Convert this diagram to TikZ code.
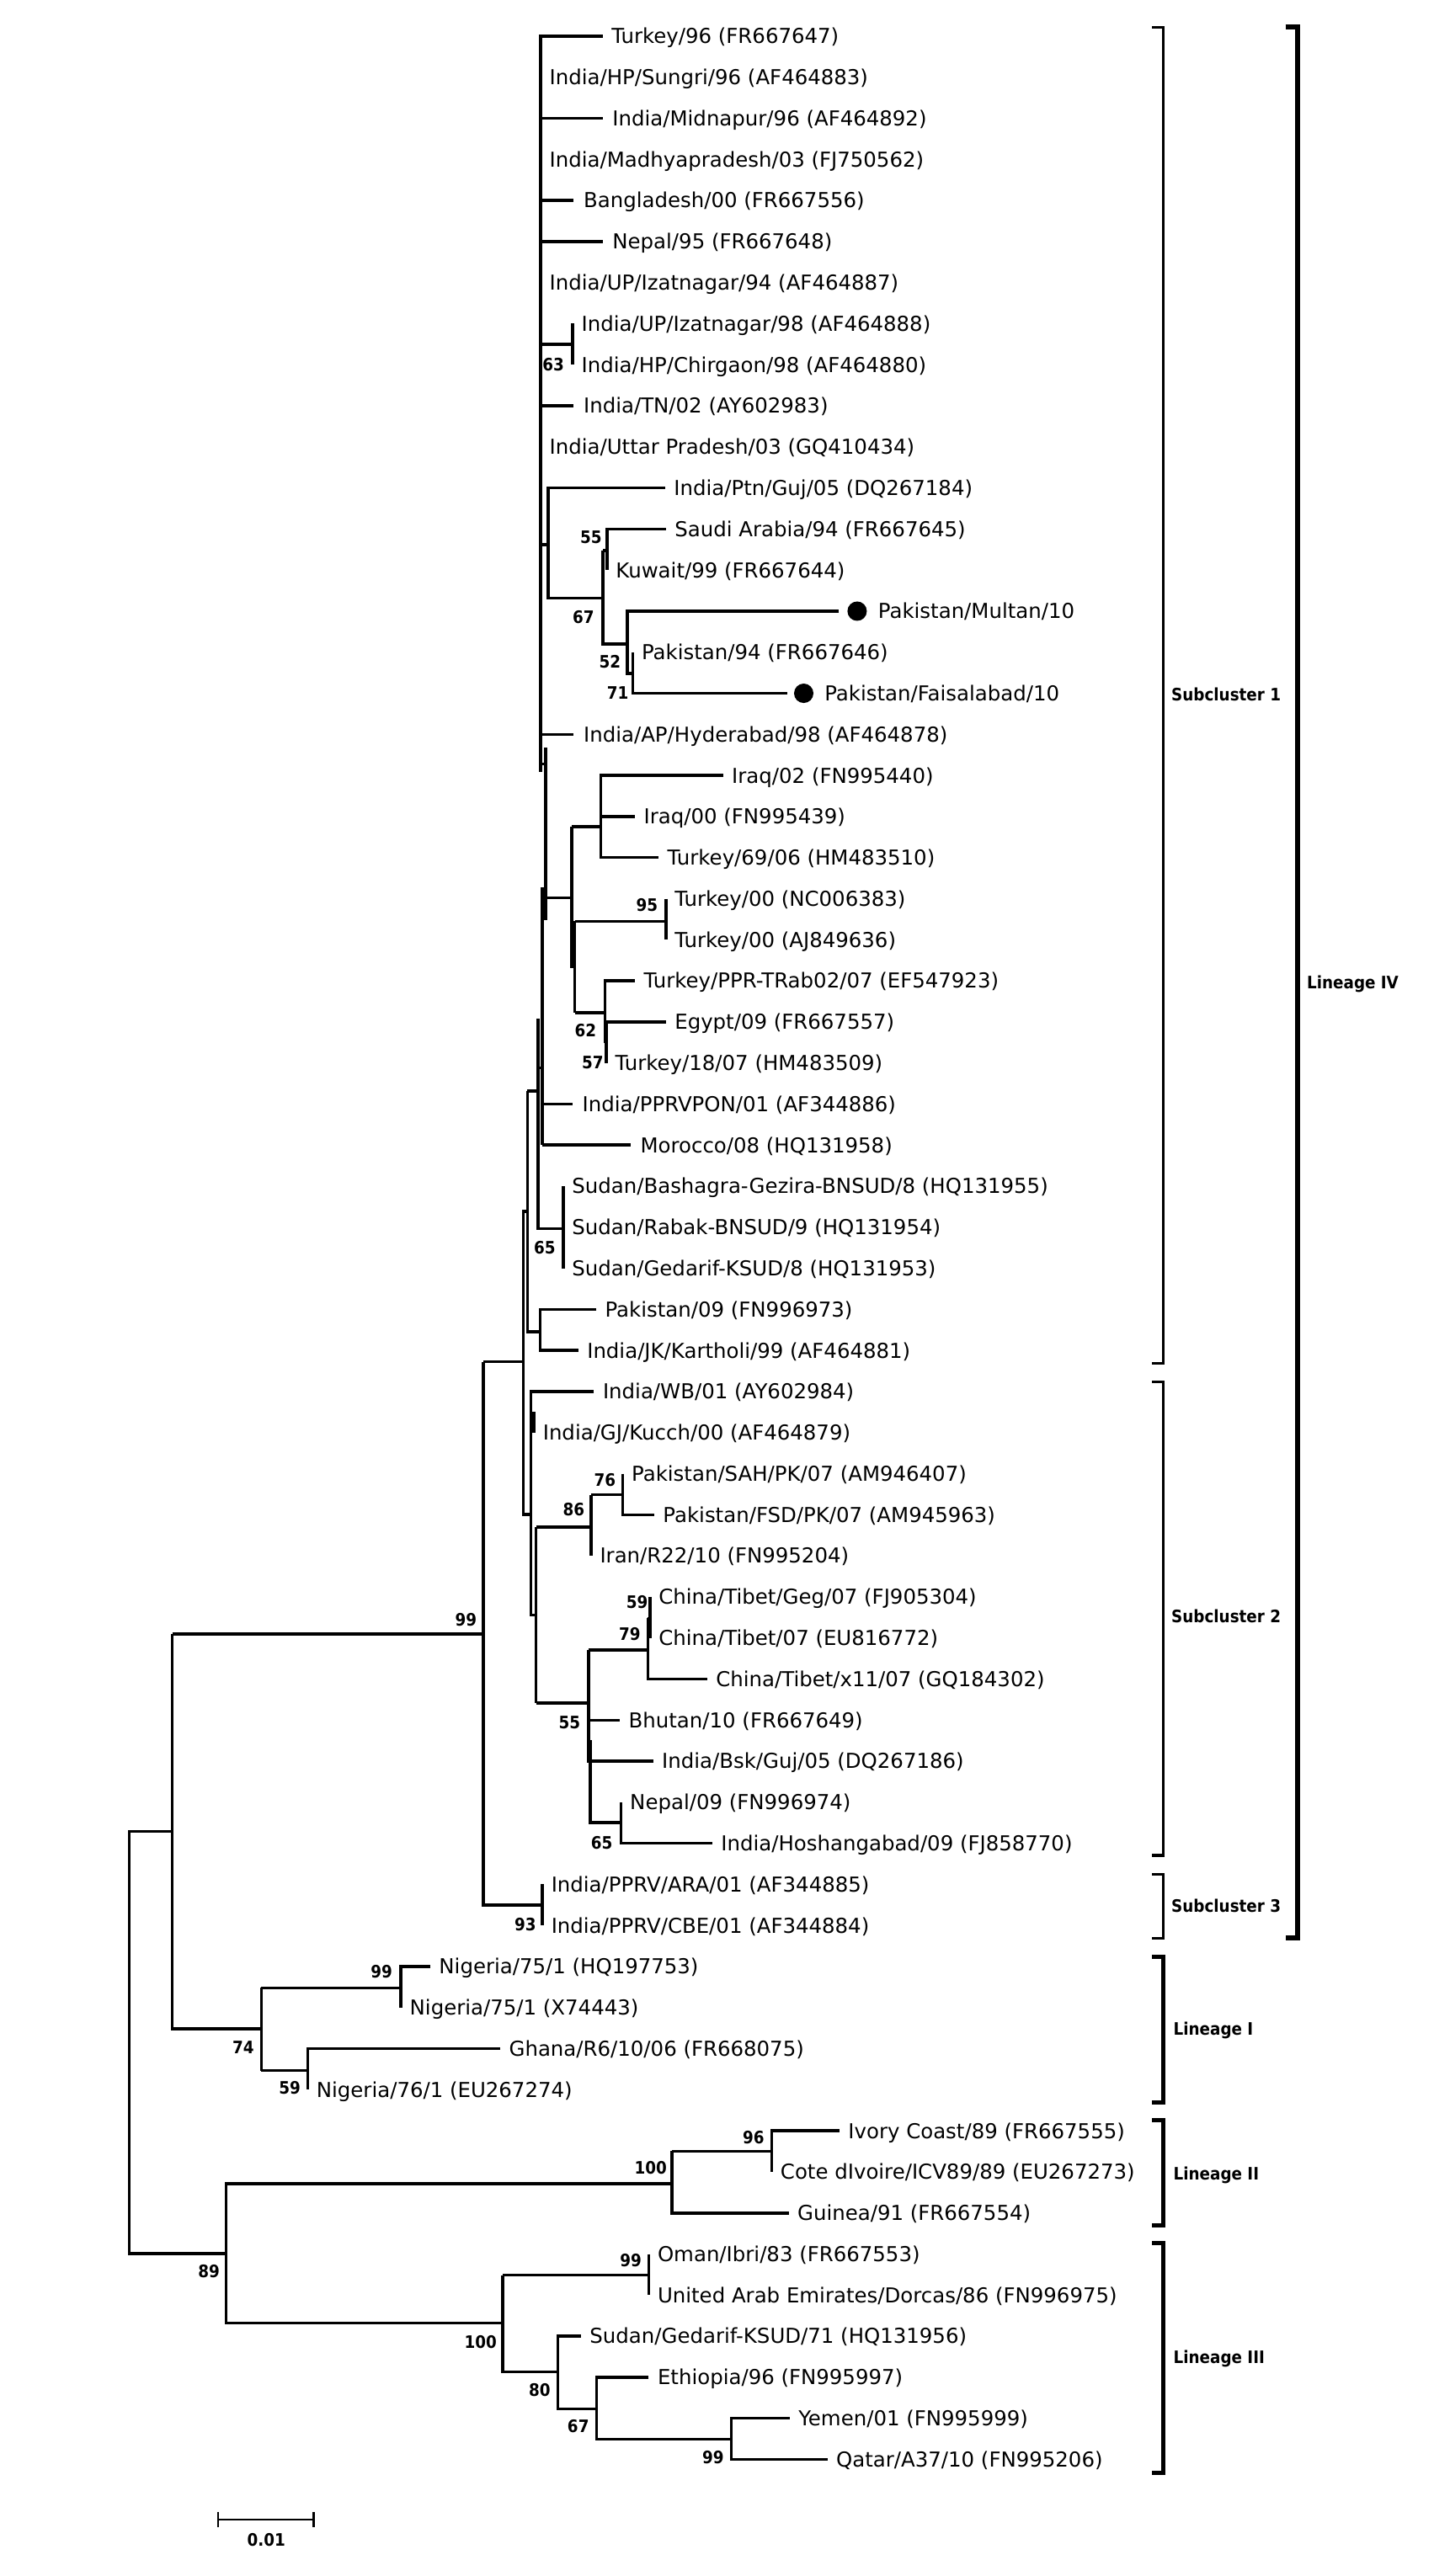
\documentclass[tikz,border=0pt]{standalone}
\usepackage{fontspec}
\setmainfont{DejaVu Sans}
\newfontfamily\bootfont{DejaVu Sans Condensed}
\tikzset{
	br/.style={line width=1pt},
	brk/.style={line width=1pt},
	lbrk/.style={line width=1.45pt},
	sbar/.style={line width=0.7pt},
	leaf/.style={anchor=west, inner xsep=2.8pt, inner ysep=0pt, text height=5.05pt, text depth=0pt, font=\fontsize{6.95}{8}\selectfont},
	boot/.style={inner sep=0pt, text height=4.2pt, text depth=0pt, font=\bootfont\bfseries\fontsize{5.8}{7}\selectfont},
	clade/.style={anchor=west, inner sep=0pt, text height=4.2pt, text depth=0pt, font=\bootfont\bfseries\fontsize{5.8}{7}\selectfont},
}

\begin{document}
\begin{tikzpicture}[x=0.019512cm, y=-0.019512cm]
			%%%%% START %%%%%
			\useasboundingbox (0,0) rectangle (882,1568);
			
			% lineage IV, subcluster 1
			\draw[br] (366.8,22) -- (329,22) -- (329,470);
			\node[leaf] (tur96) at (366.8,22) {Turkey/96 (FR667647)};
			\node[leaf] (sungri) at (329,47) {India/HP/Sungri/96 (AF464883)};
			\draw[br] (329,72) -- (366.8,72) node[leaf] (midnapur) {India/Midnapur/96 (AF464892)};
			\node[leaf] (madhya) at (329,97) {India/Madhyapradesh/03 (FJ750562)};
			\draw[br] (329,122) -- (349.2,122) node[leaf] (bangla) {Bangladesh/00 (FR667556)};
			\draw[br] (329,147) -- (366.8,147) node[leaf] (nepal95) {Nepal/95 (FR667648)};
			\node[leaf] (izat94) at (329,172) {India/UP/Izatnagar/94 (AF464887)};
			
			\draw[br] (329,209.5) -- (348.5,209.5);
			\draw[br] (348.5,197) -- (348.5,222);
			\node[leaf] (izat98) at (348.5,197) {India/UP/Izatnagar/98 (AF464888)};
			\node[leaf] (chirgaon) at (348.5,222) {India/HP/Chirgaon/98 (AF464880)};
			\node[boot] (b63) at (336.7,222) {63};
			
			\draw[br] (329,247) -- (349.2,247) node[leaf] (tn) {India/TN/02 (AY602983)};
			\node[leaf] (uttar) at (329,272) {India/Uttar Pradesh/03 (GQ410434)};
			
			\draw[br] (329,331.6) -- (333.5,331.6);
			\draw[br] (404.7,297) -- (333.5,297) -- (333.5,364) -- (366.8,364);
			\node[leaf] (ptn) at (404.7,297) {India/Ptn/Guj/05 (DQ267184)};
			\draw[br] (366.8,335) -- (366.8,392) -- (381.7,392);
			\draw[br] (366.8,335) -- (369.4,335);
			\draw[br] (405.2,322) -- (369.4,322) -- (369.4,347);
			\node[leaf] (saudi) at (405.2,322) {Saudi Arabia/94 (FR667645)};
			\node[leaf] (kuwait) at (369.4,347) {Kuwait/99 (FR667644)};
			\draw[br] (510.6,372) -- (381.7,372) -- (381.7,410) -- (385.1,410);
			\draw[br] (385.1,397) -- (385.1,422) -- (479.2,422);
			\fill (521.6,372) circle [radius=5.9];
			\fill (489.1,422) circle [radius=5.9];
			\node[leaf] (multan) at (529,372) {Pakistan/Multan/10};
			\node[leaf] (pak94) at (385.1,397) {Pakistan/94 (FR667646)};
			\node[leaf] (faisal) at (496.4,422) {Pakistan/Faisalabad/10};
			\node[boot] (b55) at (359.7,327) {55};
			\node[boot] (b67) at (355,375.8) {67};
			\node[boot] (b52) at (371.2,403) {52};
			\node[boot] (b71) at (375.9,422) {71};
			
			\draw[br] (329,447) -- (349.2,447) node[leaf] (hyder) {India/AP/Hyderabad/98 (AF464878)};
			
			\draw[br] (329,465) -- (332,465);
			\draw[br] (332,455) -- (332,560);
			\draw[br] (332,546.5) -- (347.9,546.5);
			\draw[br] (332,553) -- (330,553);
			\draw[br] (330,540) -- (330,697);
			
			\draw[br] (347.9,503.3) -- (347.9,588.3) -- (349.8,588.3);
			\draw[br] (347.9,503.3) -- (365.5,503.3);
			\draw[br] (440,472) -- (365.5,472) -- (365.5,522) -- (400.8,522);
			\draw[br] (365.5,497) -- (386.4,497);
			\node[leaf] (iraq02) at (440,472) {Iraq/02 (FN995440)};
			\node[leaf] (iraq00) at (386.4,497) {Iraq/00 (FN995439)};
			\node[leaf] (tur6906) at (400.8,522) {Turkey/69/06 (HM483510)};
			\draw[br] (349.8,560.8) -- (349.8,616.3);
			\draw[br] (349.8,560.8) -- (405.2,560.8);
			\draw[br] (405.2,547) -- (405.2,572);
			\node[leaf] (tur00a) at (405.2,547) {Turkey/00 (NC006383)};
			\node[leaf] (tur00b) at (405.2,572) {Turkey/00 (AJ849636)};
			\node[boot] (b95) at (393.7,550.9) {95};
			\draw[br] (349.8,616.3) -- (368.1,616.3);
			\draw[br] (386.4,597) -- (368.1,597) -- (368.1,634) -- (369,634);
			\draw[br] (405.2,622) -- (369,622) -- (369,647);
			\node[leaf] (trab) at (386.4,597) {Turkey/PPR-TRab02/07 (EF547923)};
			\node[leaf] (egypt) at (405.2,622) {Egypt/09 (FR667557)};
			\node[leaf] (tur1807) at (369,647) {Turkey/18/07 (HM483509)};
			\node[boot] (b62) at (356.3,627.5) {62};
			\node[boot] (b57) at (360.7,646.6) {57};
			
			\draw[br] (330,672) -- (348.5,672) node[leaf] (pprvpon) {India/PPRVPON/01 (AF344886)};
			\draw[br] (330,697) -- (383.8,697) node[leaf] (morocco) {Morocco/08 (HQ131958)};
			
			\draw[br] (330,650) -- (327.5,650);
			\draw[br] (327.5,620) -- (327.5,747.8) -- (342.7,747.8);
			\draw[br] (342.7,722) -- (342.7,772);
			\node[leaf] (bashagra) at (342.7,722) {Sudan/Bashagra-Gezira-BNSUD/8 (HQ131955)};
			\node[leaf] (rabak) at (342.7,747) {Sudan/Rabak-BNSUD/9 (HQ131954)};
			\node[leaf] (gedarif8) at (342.7,772) {Sudan/Gedarif-KSUD/8 (HQ131953)};
			\node[boot] (b65) at (331.5,759.6) {65};
			
			\draw[br] (321,664) -- (327.5,664);
			\draw[br] (321,664) -- (321,810.6) -- (328.8,810.6);
			\draw[br] (362.8,797) -- (328.8,797) -- (328.8,822) -- (351.9,822);
			\node[leaf] (pak09) at (362.8,797) {Pakistan/09 (FN996973)};
			\node[leaf] (kartholi) at (351.9,822) {India/JK/Kartholi/99 (AF464881)};
			
			% lineage IV, subcluster 2
			\draw[br] (321,737.4) -- (318.4,737.4) -- (318.4,921.7) -- (323,921.7);
			\draw[br] (361.5,847) -- (323,847) -- (323,983) -- (326.2,983);
			\node[leaf] (wb) at (361.5,847) {India/WB/01 (AY602984)};
			\draw[br] (323,860) -- (325,860) -- (325,872);
			\node[leaf] (kucch) at (325,872) {India/GJ/Kucch/00 (AF464879)};
			\draw[br] (326.2,929.5) -- (326.2,1036.7);
			\draw[br] (326.2,929.5) -- (359.7,929.5);
			\draw[br] (359.7,909.9) -- (359.7,947);
			\draw[br] (359.7,909.9) -- (379,909.9);
			\draw[br] (379,897) -- (379,922) -- (398.1,922);
			\node[leaf] (sah) at (379,897) {Pakistan/SAH/PK/07 (AM946407)};
			\node[leaf] (fsd) at (398.1,922) {Pakistan/FSD/PK/07 (AM945963)};
			\node[leaf] (iran) at (359.7,947) {Iran/R22/10 (FN995204)};
			\node[boot] (b76) at (368.1,900.7) {76};
			\node[boot] (b86) at (349.2,919) {86};
			
			\draw[br] (326.2,1036.7) -- (358.1,1036.7);
			\draw[br] (358.1,1004.4) -- (358.1,1072) -- (397.4,1072);
			\draw[br] (358.1,1047) -- (377.2,1047);
			\draw[br] (358.1,1060) -- (359.2,1060) -- (359.2,1109.4) -- (378,1109.4);
			\draw[br] (378,1097) -- (378,1122) -- (433.4,1122);
			\draw[br] (358.1,1004.4) -- (394.2,1004.4);
			\draw[br] (394.2,985) -- (394.2,1022) -- (430.3,1022);
			\draw[br] (394.2,985) -- (395.5,985);
			\draw[br] (395.5,972) -- (395.5,997);
			\node[leaf] (geg) at (395.5,972) {China/Tibet/Geg/07 (FJ905304)};
			\node[leaf] (tibet07) at (395.5,997) {China/Tibet/07 (EU816772)};
			\node[leaf] (x11) at (430.3,1022) {China/Tibet/x11/07 (GQ184302)};
			\node[leaf] (bhutan) at (377.2,1047) {Bhutan/10 (FR667649)};
			\node[leaf] (bsk) at (397.4,1072) {India/Bsk/Guj/05 (DQ267186)};
			\node[leaf] (nepal09) at (378,1097) {Nepal/09 (FN996974)};
			\node[leaf] (hoshang) at (433.4,1122) {India/Hoshangabad/09 (FJ858770)};
			\node[boot] (b59) at (387.7,975.3) {59};
			\node[boot] (b79) at (383.2,994.4) {79};
			\node[boot] (b55b) at (346.6,1048.5) {55};
			\node[boot] (b65b) at (366.2,1121.7) {65};
			
			% lineage IV, subcluster 3
			\draw[br] (294,828.9) -- (318.4,828.9);
			\draw[br] (294,828.9) -- (294,1159.6) -- (330.1,1159.6);
			\draw[br] (330.1,1147) -- (330.1,1172);
			\node[leaf] (ara) at (330.1,1147) {India/PPRV/ARA/01 (AF344885)};
			\node[leaf] (cbe) at (330.1,1172) {India/PPRV/CBE/01 (AF344884)};
			\node[boot] (b93) at (319.7,1171.4) {93};
			\draw[br] (104.9,994.5) -- (294,994.5);
			\node[boot] (b99) at (283.5,985.8) {99};
			
			% lineage I
			\draw[br] (104.9,994.5) -- (104.9,1235) -- (159,1235);
			\draw[br] (159,1210) -- (159,1260.4);
			\draw[br] (159,1210) -- (244,1210);
			\draw[br] (261.8,1197) -- (244,1197) -- (244,1222);
			\node[leaf] (nig75a) at (261.8,1197) {Nigeria/75/1 (HQ197753)};
			\node[leaf] (nig75b) at (244,1222) {Nigeria/75/1 (X74443)};
			\draw[br] (159,1260.4) -- (187.2,1260.4);
			\draw[br] (304.4,1247) -- (187.2,1247) -- (187.2,1272);
			\node[leaf] (ghana) at (304.4,1247) {Ghana/R6/10/06 (FR668075)};
			\node[leaf] (nig76) at (187.2,1272) {Nigeria/76/1 (EU267274)};
			\node[boot] (b74) at (148,1246) {74};
			\node[boot] (b99n) at (232.2,1200.3) {99};
			\node[boot] (b59n) at (176.3,1270.9) {59};
			
			% root, lineages II and III
			\draw[br] (104.9,1114.7) -- (78.7,1114.7) -- (78.7,1371.8) -- (137.6,1371.8);
			\draw[br] (409,1329.3) -- (137.6,1329.3) -- (137.6,1414) -- (305.8,1414);
			\node[boot] (b89) at (127.2,1382.7) {89};
			\node[boot] (b100) at (396,1319.3) {100};
			
			\draw[br] (409,1309.4) -- (409,1347) -- (479.9,1347);
			\draw[br] (409,1309.4) -- (469.6,1309.4);
			\draw[br] (510.8,1297) -- (469.6,1297) -- (469.6,1322);
			\node[leaf] (ivory) at (510.8,1297) {Ivory Coast/89 (FR667555)};
			\node[leaf] (cote) at (469.6,1322) {Cote dIvoire/ICV89/89 (EU267273)};
			\node[leaf] (guinea) at (479.9,1347) {Guinea/91 (FR667554)};
			\node[boot] (b96) at (458.5,1301) {96};
			
			\draw[br] (305.8,1384.8) -- (305.8,1443.8) -- (339.5,1443.8);
			\draw[br] (305.8,1384.8) -- (394.8,1384.8);
			\draw[br] (394.8,1372) -- (394.8,1397);
			\node[leaf] (oman) at (394.8,1372) {Oman/Ibri/83 (FR667553)};
			\node[leaf] (uae) at (394.8,1397) {United Arab Emirates/Dorcas/86 (FN996975)};
			\draw[br] (353.5,1422) -- (339.5,1422) -- (339.5,1466.3) -- (363,1466.3);
			\node[leaf] (gedarif71) at (353.5,1422) {Sudan/Gedarif-KSUD/71 (HQ131956)};
			\draw[br] (394.8,1447) -- (363,1447) -- (363,1484.8) -- (445,1484.8);
			\node[leaf] (ethiopia) at (394.8,1447) {Ethiopia/96 (FN995997)};
			\draw[br] (480.5,1472) -- (445,1472) -- (445,1497) -- (503.5,1497);
			\node[leaf] (yemen) at (480.5,1472) {Yemen/01 (FN995999)};
			\node[leaf] (qatar) at (503.5,1497) {Qatar/A37/10 (FN995206)};
			\node[boot] (b100b) at (292.5,1425.5) {100};
			\node[boot] (b99o) at (383.9,1376) {99};
			\node[boot] (b80) at (328.4,1454.8) {80};
			\node[boot] (b67b) at (351.9,1476.8) {67};
			\node[boot] (b99q) at (433.9,1495.6) {99};
			
			% scale bar
			\draw[sbar] (132.8,1529) -- (132.8,1538.4);
			\draw[sbar] (132.8,1533.7) -- (190.8,1533.7);
			\draw[sbar] (190.8,1529) -- (190.8,1538.4);
			\node[boot] (scale) at (162.1,1545.8) {0.01};
			
			% brackets
			\draw[brk] (701,16.6) -- (708,16.6) -- (708,829.8) -- (701,829.8);
			\draw[brk] (701,841.1) -- (708,841.1) -- (708,1129.4) -- (701,1129.4);
			\draw[brk] (701,1141) -- (708,1141) -- (708,1179.8) -- (701,1179.8);
			\draw[line width=1.7pt] (782.2,16.2) -- (789.4,16.2) -- (789.4,1179.8) -- (782.2,1179.8);
			\draw[lbrk] (701,1190.9) -- (708,1190.9) -- (708,1279.7) -- (701,1279.7);
			\draw[lbrk] (701,1290.5) -- (708,1290.5) -- (708,1354.4) -- (701,1354.4);
			\draw[lbrk] (701,1365.5) -- (708,1365.5) -- (708,1505) -- (701,1505);
			\node[clade] (sc1) at (712.5,422.8) {Subcluster 1};
			\node[clade] (sc2) at (712.5,984) {Subcluster 2};
			\node[clade] (sc3) at (712.5,1160) {Subcluster 3};
			\node[clade] (lin4) at (795,598) {Lineage IV};
			\node[clade] (lin1) at (713.8,1235) {Lineage I};
			\node[clade] (lin2) at (713.8,1323) {Lineage II};
			\node[clade] (lin3) at (713.8,1435) {Lineage III};
			%%%%% END %%%%%
		\end{tikzpicture}
\end{document}
